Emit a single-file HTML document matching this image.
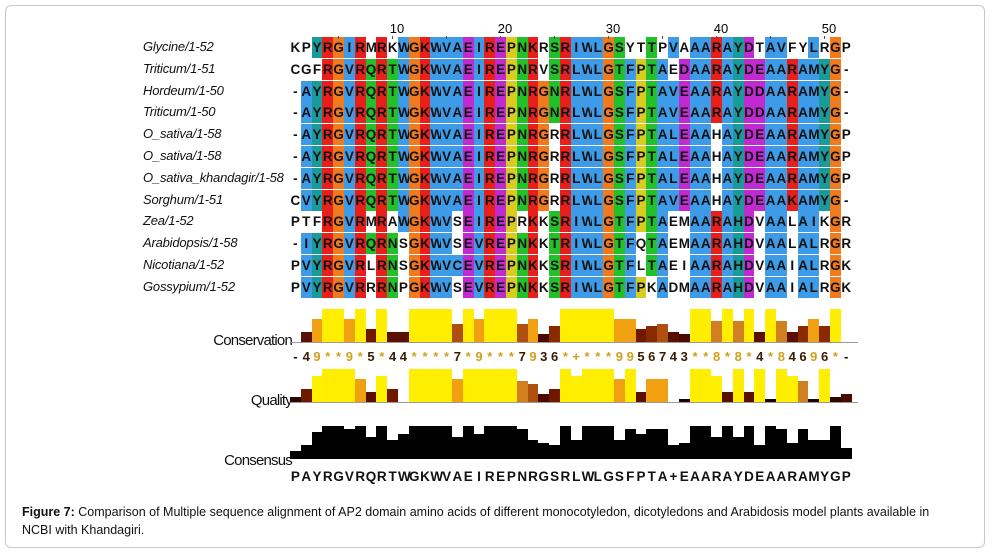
<!DOCTYPE html>
<html><head><meta charset="utf-8">
<style>
body{margin:0;width:993px;height:555px;background:#fff;position:relative;overflow:hidden;font-family:"Liberation Sans",sans-serif}
#frame{position:absolute;left:5px;top:5px;width:978px;height:541px;border:1px solid #c8c8c8;border-radius:6px}
.nm{position:absolute;left:143px;font-style:italic;font-size:13px;letter-spacing:-0.2px;color:#111}
.row{position:absolute;left:290px;height:21px}
.row span,.cs span{position:absolute;top:0;width:10.8px;height:21px;line-height:21px;text-align:center;font-weight:bold;font-size:13.5px;color:#111}
.num{position:absolute;top:21px;font-size:13px;transform:translateX(-50%)}
.tick{position:absolute;top:36px;width:1px;height:3px;background:#555}
.lab{position:absolute;font-size:15px;letter-spacing:-0.8px;color:#111}
.bar{position:absolute}
.cn span{position:absolute;width:10.8px;text-align:center;font-weight:bold;font-size:13px}
#cap{position:absolute;left:22px;top:503px;width:935px;font-size:12.5px;line-height:18px;color:#111}
</style></head><body>
<div id="frame"></div>
<div id="names"></div>
<div id="rows">
<div class="row" data-n="Glycine/1-52">KPYRGIRMRKWGKWVAEIREPNKRSRIWLGSYTTPVAAARAYDTAVFYLRGP</div>
<div class="row" data-n="Triticum/1-51">CGFRGVRQRTWGKWVAEIREPNRVSRLWLGTFPTAEDAARAYDEAARAMYG-</div>
<div class="row" data-n="Hordeum/1-50">-AYRGVRQRTWGKWVAEIREPNRGNRLWLGSFPTAVEAARAYDDAARAMYG-</div>
<div class="row" data-n="Triticum/1-50">-AYRGVRQRTWGKWVAEIREPNRGNRLWLGSFPTAVEAARAYDDAARAMYG-</div>
<div class="row" data-n="O_sativa/1-58">-AYRGVRQRTWGKWVAEIREPNRGRRLWLGSFPTALEAAHAYDEAARAMYGP</div>
<div class="row" data-n="O_sativa/1-58">-AYRGVRQRTWGKWVAEIREPNRGRRLWLGSFPTALEAAHAYDEAARAMYGP</div>
<div class="row" data-n="O_sativa_khandagir/1-58">-AYRGVRQRTWGKWVAEIREPNRGRRLWLGSFPTALEAAHAYDEAARAMYGP</div>
<div class="row" data-n="Sorghum/1-51">CVYRGVRQRTWGKWVAEIREPNRGRRLWLGSFPTAVEAAHAYDEAAKAMYG-</div>
<div class="row" data-n="Zea/1-52">PTFRGVRMRAWGKWVSEIREPRKKSRIWLGTFPTAEMAARAHDVAALAIKGR</div>
<div class="row" data-n="Arabidopsis/1-58">-IYRGVRQRNSGKWVSEVREPNKKTRIWLGTFQTAEMAARAHDVAALALRGR</div>
<div class="row" data-n="Nicotiana/1-52">PVYRGVRLRNSGKWVCEVREPNKKSRIWLGTFLTAEIAARAHDVAAIALRGK</div>
<div class="row" data-n="Gossypium/1-52">PVYRGVRRRNPGKWVSEVREPNKKSRIWLGTFPKADMAARAHDVAAIALRGK</div>
</div>
<div class="num" style="left:397px">10</div><div class="num" style="left:505px">20</div><div class="num" style="left:613px">30</div><div class="num" style="left:721px">40</div><div class="num" style="left:829px">50</div>
<div id="ticks"></div>
<div class="lab" style="right:701px;top:332px">Conservation</div>
<div class="lab" style="right:701px;top:392px">Quality</div>
<div class="lab" style="right:701px;top:452px">Consensus</div>
<div style="position:absolute;left:290px;top:342px;width:568px;height:1px;background:#999"></div>
<div style="position:absolute;left:290px;top:402px;width:568px;height:1px;background:#999"></div>
<div id="bars"></div>
<div class="cn" id="cn" style="position:absolute;left:290px;top:349px;height:16px">-49**9*5*44****7*9***7936*+***9956743**8*8*4*84696*-</div>
<div class="row cs" id="cs" style="top:466px">PAYRGVRQRTWGKWVAEIREPNRGSRLWLGSFPTA+EAARAYDEAARAMYGP</div>
<div id="cap"><b>Figure 7:</b> Comparison of Multiple sequence alignment of AP2 domain amino acids of different monocotyledon, dicotyledons and Arabidosis model plants available in NCBI with Khandagiri.</div>
<script>
var W=10.8,X0=290;
var rows=[].slice.call(document.querySelectorAll('#rows .row'));
var seqs=rows.map(function(r){return r.textContent});
var cls={A:'h',I:'h',L:'h',M:'h',F:'h',W:'h',V:'h',C:'h',K:'k',R:'k',E:'e',D:'e',N:'p',Q:'p',S:'p',T:'p',G:'g',P:'y',Y:'c',H:'c'};
var col={h:'#3d9be8',k:'#e8201c',e:'#c02ad0',p:'#22c02a',g:'#f07a1e',y:'#d8cc20',c:'#1a9a98'};
var names=document.getElementById('names');
rows.forEach(function(r,ri){
 var top=37+ri*21.8;r.style.top=top+'px';
 var n=document.createElement('div');n.className='nm';n.style.top=(top+2)+'px';n.textContent=r.getAttribute('data-n');names.appendChild(n);
 var s=r.textContent;r.textContent='';
 for(var i=0;i<s.length;i++){var sp=document.createElement('span');sp.style.left=(i*W)+'px';sp.textContent=s[i];
  var c=cls[s[i]];if(c){var cnt=0;seqs.forEach(function(q){if(cls[q[i]]===c)cnt++});if(cnt>=6)sp.style.background=col[c];}
  r.appendChild(sp);}
});
var t=document.getElementById('ticks');
for(var i=4;i<52;i+=5){var d=document.createElement('div');d.className='tick';d.style.left=(X0+i*W+5)+'px';t.appendChild(d);}
var cs=document.getElementById('cs');var s=cs.textContent;cs.textContent='';
for(var i=0;i<s.length;i++){var sp=document.createElement('span');sp.style.left=(i*W)+'px';sp.textContent=s[i];cs.appendChild(sp);}
var cn=document.getElementById('cn');var cv=cn.textContent;cn.textContent='';
function val(ch){if(ch=='*'||ch=='+')return 11;if(ch=='-')return 0;return +ch;}
function colr(v){var c=['#000','#1a0500','#2a0800','#4a0a00','#5a1000','#701800','#8a2a00','#b05010','#d08020','#f0a010','#fff000','#ffee00'];return c[v];}
for(var i=0;i<cv.length;i++){var sp=document.createElement('span');sp.style.left=(i*W)+'px';sp.textContent=cv[i];var v=val(cv[i]);sp.style.color=v>=8?'#d0a020':'#3a1a00';if(cv[i]=='-')sp.style.color='#111';cn.appendChild(sp);}
var bars=document.getElementById('bars');
function bar(x,base,h,c){var d=document.createElement('div');d.className='bar';d.style.left=x+'px';d.style.top=(base-h)+'px';d.style.width=W+'px';d.style.height=h+'px';d.style.background=c;bars.appendChild(d);}
var q=[2,5,10,11,11,11,9,4,10,5,0,11,11,11,11,9,11,11,11,11,11,8,7,3,5,11,10,11,11,11,9,11,4,9,9,0,1,11,11,10,4,11,4,11,1,11,10,8,1,11,2,3];
for(var i=0;i<52;i++){var v=val(cv[i]);if(v>0)bar(X0+i*W,342,v>=11?33:Math.max(4,v*2.6),colr(v>=11?11:v));
 var qv=q[i];if(qv>0)bar(X0+i*W,402,qv>=11?33:Math.max(2,qv*2.6),colr(qv));
 var cnt=0;seqs.forEach(function(r){if(r[i]===s[i])cnt++});if(s[i]=='+')cnt=5;
 bar(X0+i*W,459,Math.max(4,cnt/12*33),'#000');}
</script>
</body></html>
